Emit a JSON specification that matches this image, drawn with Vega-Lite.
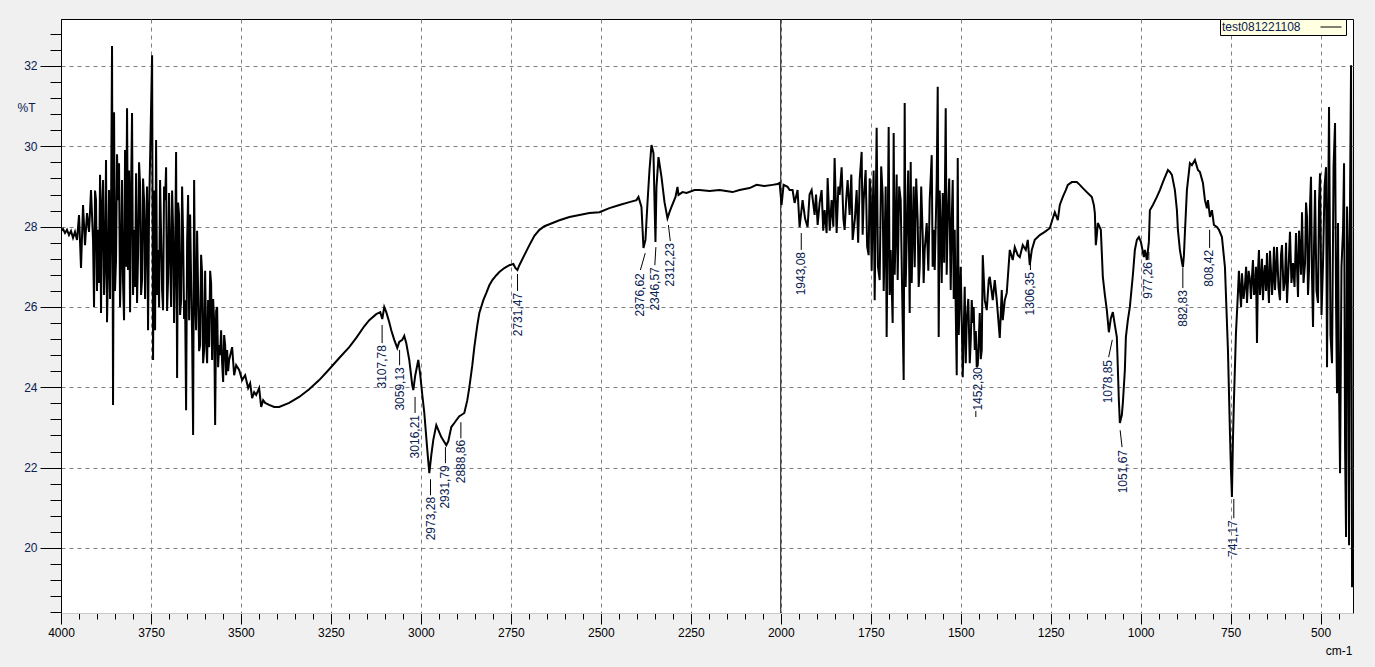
{
  "$schema": "https://vega.github.io/schema/vega-lite/v6.json",
  "width": 1292,
  "height": 594,
  "autosize": {"type": "none"},
  "padding": {"left": 61, "top": 19, "right": 22, "bottom": 54},
  "background": "#f0f0f0",
  "config": {
    "view": {"fill": "#ffffff", "stroke": "#000000", "strokeWidth": 1},
    "font": "Liberation Sans"
  },
  "datasets": {
    "spectrum": [
      {"wn":4000,"t":27.89},{"wn":3994.4,"t":27.94},{"wn":3988.9,"t":27.84},{"wn":3983.3,"t":27.92},{"wn":3977.8,"t":27.79},{"wn":3972.2,"t":27.89},{"wn":3966.6,"t":27.72},{"wn":3961.1,"t":27.87},{"wn":3955.5,"t":27.67},{"wn":3949.9,"t":28.29},{"wn":3944.4,"t":26.97},{"wn":3938.8,"t":28.54},{"wn":3933.3,"t":27.54},{"wn":3927.7,"t":28.34},{"wn":3922.1,"t":27.87},{"wn":3916.6,"t":28.91},{"wn":3911.0,"t":27.67},{"wn":3908.2,"t":26.00},{"wn":3905.4,"t":28.9},{"wn":3902.7,"t":28.66},{"wn":3900.0,"t":26.4},{"wn":3897.1,"t":27.92},{"wn":3894.3,"t":26.6},{"wn":3891.5,"t":29.29},{"wn":3888.8,"t":25.85},{"wn":3886.0,"t":28.5},{"wn":3883.2,"t":29.16},{"wn":3880.4,"t":26.3},{"wn":3877.6,"t":27.17},{"wn":3874.9,"t":29.66},{"wn":3872.1,"t":25.62},{"wn":3869.3,"t":27.0},{"wn":3866.5,"t":28.91},{"wn":3863.7,"t":26.2},{"wn":3861.0,"t":28.29},{"wn":3858.2,"t":32.50},{"wn":3855.4,"t":23.56},{"wn":3852.6,"t":30.85},{"wn":3849.9,"t":26.4},{"wn":3847.1,"t":27.17},{"wn":3844.3,"t":29.8},{"wn":3841.5,"t":28.66},{"wn":3838.7,"t":29.58},{"wn":3836.0,"t":26.0},{"wn":3833.2,"t":27.12},{"wn":3830.4,"t":29.16},{"wn":3827.6,"t":26.6},{"wn":3824.8,"t":25.67},{"wn":3822.0,"t":29.91},{"wn":3819.3,"t":27.0},{"wn":3816.5,"t":30.95},{"wn":3813.7,"t":26.92},{"wn":3810.9,"t":29.4},{"wn":3808.1,"t":25.87},{"wn":3805.4,"t":28.8},{"wn":3802.6,"t":30.83},{"wn":3799.8,"t":26.3},{"wn":3797.0,"t":27.92},{"wn":3794.2,"t":26.5},{"wn":3791.4,"t":29.33},{"wn":3788.7,"t":26.1},{"wn":3785.9,"t":27.29},{"wn":3783.1,"t":29.6},{"wn":3780.3,"t":29.04},{"wn":3777.5,"t":26.3},{"wn":3774.8,"t":26.67},{"wn":3772.0,"t":29.2},{"wn":3769.2,"t":28.66},{"wn":3766.4,"t":26.2},{"wn":3763.6,"t":27.92},{"wn":3760.9,"t":29.0},{"wn":3758.1,"t":25.42},{"wn":3755.3,"t":28.4},{"wn":3752.5,"t":29.66},{"wn":3746.9,"t":32.27},{"wn":3744.2,"t":24.68},{"wn":3741.4,"t":28.9},{"wn":3738.6,"t":25.42},{"wn":3735.8,"t":30.16},{"wn":3733.0,"t":26.3},{"wn":3730.3,"t":27.42},{"wn":3727.5,"t":26.0},{"wn":3724.7,"t":29.16},{"wn":3721.9,"t":27.8},{"wn":3719.1,"t":26.42},{"wn":3716.4,"t":25.92},{"wn":3713.6,"t":29.0},{"wn":3710.8,"t":28.66},{"wn":3708.0,"t":29.48},{"wn":3705.2,"t":25.9},{"wn":3702.5,"t":26.67},{"wn":3699.7,"t":28.84},{"wn":3696.9,"t":27.4},{"wn":3694.1,"t":26.00},{"wn":3691.3,"t":28.9},{"wn":3688.5,"t":27.92},{"wn":3685.8,"t":25.6},{"wn":3683.0,"t":27.17},{"wn":3680.2,"t":29.86},{"wn":3677.4,"t":24.23},{"wn":3674.6,"t":28.6},{"wn":3671.9,"t":28.29},{"wn":3669.1,"t":25.8},{"wn":3666.3,"t":26.17},{"wn":3663.5,"t":29.0},{"wn":3660.7,"t":27.79},{"wn":3658.0,"t":25.7},{"wn":3655.2,"t":26.17},{"wn":3652.4,"t":23.43},{"wn":3649.6,"t":27.6},{"wn":3646.8,"t":28.79},{"wn":3644.0,"t":25.67},{"wn":3641.2,"t":28.3},{"wn":3638.5,"t":26.67},{"wn":3635.7,"t":25.3},{"wn":3632.9,"t":22.81},{"wn":3630.1,"t":29.16},{"wn":3627.3,"t":26.2},{"wn":3624.6,"t":25.42},{"wn":3621.8,"t":27.9},{"wn":3619.0,"t":26.42},{"wn":3616.2,"t":24.9},{"wn":3613.5,"t":25.05},{"wn":3610.7,"t":27.3},{"wn":3607.9,"t":26.84},{"wn":3605.1,"t":24.6},{"wn":3602.3,"t":24.93},{"wn":3599.5,"t":26.9},{"wn":3596.8,"t":25.18},{"wn":3594.0,"t":24.6},{"wn":3591.2,"t":26.17},{"wn":3588.4,"t":25.0},{"wn":3585.6,"t":26.9},{"wn":3582.9,"t":26.59},{"wn":3580.1,"t":24.68},{"wn":3577.3,"t":26.2},{"wn":3574.5,"t":25.67},{"wn":3571.7,"t":23.06},{"wn":3568.9,"t":25.9},{"wn":3566.2,"t":26.00},{"wn":3563.4,"t":24.5},{"wn":3560.6,"t":25.05},{"wn":3557.8,"t":24.8},{"wn":3555.1,"t":25.42},{"wn":3552.3,"t":24.6},{"wn":3549.5,"t":24.13},{"wn":3546.7,"t":25.3},{"wn":3543.9,"t":25.05},{"wn":3541.1,"t":24.3},{"wn":3538.4,"t":24.93},{"wn":3535.6,"t":24.4},{"wn":3532.8,"t":24.68},{"wn":3524.5,"t":25.00},{"wn":3518.9,"t":24.30},{"wn":3513.3,"t":24.55},{"wn":3505.0,"t":24.43},{"wn":3496.7,"t":24.18},{"wn":3488.3,"t":24.30},{"wn":3480.0,"t":23.98},{"wn":3474.4,"t":24.10},{"wn":3468.9,"t":23.73},{"wn":3463.3,"t":23.88},{"wn":3457.7,"t":23.81},{"wn":3449.4,"t":23.98},{"wn":3443.8,"t":23.51},{"wn":3438.3,"t":23.68},{"wn":3432.7,"t":23.61},{"wn":3421.6,"t":23.56},{"wn":3407.7,"t":23.51},{"wn":3393.8,"t":23.51},{"wn":3366.0,"t":23.61},{"wn":3338.2,"t":23.76},{"wn":3310.3,"t":23.95},{"wn":3282.5,"t":24.18},{"wn":3254.7,"t":24.45},{"wn":3226.9,"t":24.73},{"wn":3199.1,"t":25.00},{"wn":3179.6,"t":25.23},{"wn":3157.4,"t":25.52},{"wn":3143.5,"t":25.67},{"wn":3124.0,"t":25.82},{"wn":3112.9,"t":25.87},{"wn":3107.3,"t":25.70},{"wn":3101.8,"t":26.00},{"wn":3096.2,"t":25.87},{"wn":3087.9,"t":25.62},{"wn":3082.3,"t":25.42},{"wn":3074.0,"t":25.18},{"wn":3065.6,"t":24.98},{"wn":3060.1,"t":25.13},{"wn":3051.7,"t":25.18},{"wn":3046.2,"t":25.28},{"wn":3040.6,"t":25.10},{"wn":3032.3,"t":24.68},{"wn":3023.9,"t":24.05},{"wn":3021.1,"t":23.93},{"wn":3015.6,"t":24.30},{"wn":3007.2,"t":24.68},{"wn":3001.7,"t":24.30},{"wn":2996.1,"t":23.81},{"wn":2990.5,"t":23.36},{"wn":2982.2,"t":22.44},{"wn":2976.6,"t":21.86},{"wn":2971.1,"t":22.31},{"wn":2965.5,"t":22.69},{"wn":2957.2,"t":23.06},{"wn":2948.8,"t":22.88},{"wn":2943.3,"t":22.76},{"wn":2934.9,"t":22.64},{"wn":2929.4,"t":22.56},{"wn":2923.8,"t":22.66},{"wn":2915.5,"t":23.01},{"wn":2907.1,"t":23.11},{"wn":2901.6,"t":23.18},{"wn":2893.2,"t":23.28},{"wn":2887.6,"t":23.31},{"wn":2879.3,"t":23.36},{"wn":2871.0,"t":23.68},{"wn":2865.4,"t":24.00},{"wn":2857.1,"t":24.55},{"wn":2851.5,"t":25.00},{"wn":2843.2,"t":25.55},{"wn":2837.6,"t":25.85},{"wn":2826.5,"t":26.17},{"wn":2818.1,"t":26.35},{"wn":2809.8,"t":26.54},{"wn":2801.4,"t":26.67},{"wn":2790.3,"t":26.79},{"wn":2782.0,"t":26.87},{"wn":2768.1,"t":26.97},{"wn":2754.2,"t":27.04},{"wn":2743.0,"t":27.07},{"wn":2737.5,"t":26.97},{"wn":2731.9,"t":26.92},{"wn":2726.4,"t":27.04},{"wn":2712.5,"t":27.29},{"wn":2698.5,"t":27.54},{"wn":2684.6,"t":27.77},{"wn":2670.7,"t":27.92},{"wn":2656.8,"t":28.01},{"wn":2642.9,"t":28.06},{"wn":2629.0,"t":28.11},{"wn":2615.1,"t":28.16},{"wn":2587.3,"t":28.24},{"wn":2559.5,"t":28.29},{"wn":2531.7,"t":28.34},{"wn":2503.9,"t":28.36},{"wn":2476.1,"t":28.46},{"wn":2448.3,"t":28.54},{"wn":2420.5,"t":28.61},{"wn":2401.0,"t":28.66},{"wn":2395.4,"t":28.74},{"wn":2387.1,"t":28.49},{"wn":2381.5,"t":27.47},{"wn":2376.0,"t":27.67},{"wn":2370.4,"t":28.59},{"wn":2364.8,"t":29.41},{"wn":2359.3,"t":30.03},{"wn":2353.7,"t":29.83},{"wn":2350.9,"t":28.66},{"wn":2348.2,"t":27.62},{"wn":2345.4,"t":28.99},{"wn":2339.8,"t":29.73},{"wn":2331.5,"t":29.24},{"wn":2323.1,"t":28.61},{"wn":2314.8,"t":28.21},{"wn":2309.2,"t":28.36},{"wn":2303.7,"t":28.49},{"wn":2292.5,"t":28.74},{"wn":2287.0,"t":28.99},{"wn":2284.2,"t":28.79},{"wn":2273.1,"t":28.86},{"wn":2261.9,"t":28.84},{"wn":2239.7,"t":28.91},{"wn":2225.8,"t":28.91},{"wn":2198.0,"t":28.89},{"wn":2170.2,"t":28.91},{"wn":2134.0,"t":28.86},{"wn":2114.6,"t":28.91},{"wn":2086.7,"t":28.96},{"wn":2067.3,"t":29.04},{"wn":2045.0,"t":29.01},{"wn":2022.8,"t":29.04},{"wn":2008.9,"t":29.06},{"wn":2003.3,"t":29.09},{"wn":1997.8,"t":28.54},{"wn":1992.2,"t":29.04},{"wn":1981.1,"t":28.99},{"wn":1975.5,"t":28.91},{"wn":1967.2,"t":28.91},{"wn":1961.6,"t":28.59},{"wn":1953.3,"t":28.91},{"wn":1947.7,"t":27.99},{"wn":1939.4,"t":28.66},{"wn":1932.5,"t":28.2},{"wn":1925.5,"t":27.99},{"wn":1920.0,"t":28.8},{"wn":1914.3,"t":28.91},{"wn":1906.0,"t":28.29},{"wn":1902.0,"t":28.8},{"wn":1897.6,"t":28.04},{"wn":1892.0,"t":28.6},{"wn":1886.5,"t":28.91},{"wn":1882.0,"t":27.9},{"wn":1878.2,"t":28.41},{"wn":1872.6,"t":27.84},{"wn":1869.8,"t":29.21},{"wn":1864.0,"t":27.9},{"wn":1858.7,"t":28.66},{"wn":1854.0,"t":28.0},{"wn":1850.4,"t":29.71},{"wn":1844.8,"t":27.84},{"wn":1840.0,"t":29.0},{"wn":1836.5,"t":28.79},{"wn":1830.9,"t":29.48},{"wn":1826.0,"t":28.2},{"wn":1822.6,"t":27.92},{"wn":1818.0,"t":28.7},{"wn":1814.2,"t":29.16},{"wn":1808.7,"t":28.29},{"wn":1804.0,"t":29.3},{"wn":1800.3,"t":27.67},{"wn":1794.0,"t":28.2},{"wn":1789.2,"t":28.91},{"wn":1785.0,"t":27.6},{"wn":1780.8,"t":29.16},{"wn":1775.3,"t":29.86},{"wn":1772.5,"t":27.8},{"wn":1769.7,"t":28.66},{"wn":1764.2,"t":29.41},{"wn":1760.0,"t":27.5},{"wn":1755.8,"t":27.29},{"wn":1753.0,"t":29.2},{"wn":1750.3,"t":28.91},{"wn":1747.5,"t":26.9},{"wn":1744.7,"t":28.41},{"wn":1742.0,"t":29.4},{"wn":1739.1,"t":26.17},{"wn":1733.6,"t":30.46},{"wn":1730.0,"t":27.0},{"wn":1725.2,"t":26.67},{"wn":1721.0,"t":29.5},{"wn":1716.9,"t":28.79},{"wn":1714.0,"t":26.4},{"wn":1711.3,"t":27.67},{"wn":1708.5,"t":29.0},{"wn":1705.8,"t":25.25},{"wn":1700.2,"t":30.48},{"wn":1697.4,"t":26.3},{"wn":1694.6,"t":27.42},{"wn":1689.1,"t":25.60},{"wn":1686.3,"t":30.33},{"wn":1683.5,"t":26.8},{"wn":1680.7,"t":27.92},{"wn":1678.0,"t":29.3},{"wn":1675.2,"t":26.67},{"wn":1671.0,"t":29.0},{"wn":1666.8,"t":28.66},{"wn":1662.6,"t":26.3},{"wn":1658.5,"t":24.18},{"wn":1655.7,"t":31.08},{"wn":1653.0,"t":26.5},{"wn":1650.1,"t":27.67},{"wn":1646.0,"t":29.4},{"wn":1641.8,"t":25.85},{"wn":1639.0,"t":29.61},{"wn":1636.2,"t":26.6},{"wn":1633.5,"t":27.92},{"wn":1630.7,"t":29.0},{"wn":1627.9,"t":26.99},{"wn":1623.7,"t":29.2},{"wn":1619.6,"t":28.16},{"wn":1616.8,"t":26.5},{"wn":1614.0,"t":26.99},{"wn":1609.8,"t":29.0},{"wn":1605.7,"t":27.79},{"wn":1603.0,"t":26.6},{"wn":1600.1,"t":27.42},{"wn":1594.5,"t":28.09},{"wn":1590.0,"t":26.9},{"wn":1586.2,"t":28.66},{"wn":1580.6,"t":29.78},{"wn":1578.0,"t":27.0},{"wn":1575.1,"t":27.92},{"wn":1572.3,"t":26.92},{"wn":1566.7,"t":29.16},{"wn":1563.9,"t":31.48},{"wn":1561.2,"t":25.25},{"wn":1558.4,"t":28.9},{"wn":1555.6,"t":27.92},{"wn":1552.8,"t":26.6},{"wn":1550.0,"t":28.84},{"wn":1546.0,"t":27.1},{"wn":1541.7,"t":30.95},{"wn":1539.0,"t":26.8},{"wn":1536.1,"t":28.16},{"wn":1532.0,"t":29.2},{"wn":1527.8,"t":26.42},{"wn":1525.0,"t":28.16},{"wn":1522.2,"t":29.16},{"wn":1519.4,"t":26.2},{"wn":1516.7,"t":27.92},{"wn":1514.0,"t":26.0},{"wn":1511.1,"t":24.30},{"wn":1508.3,"t":29.71},{"wn":1505.5,"t":25.3},{"wn":1502.8,"t":26.17},{"wn":1500.0,"t":27.0},{"wn":1497.2,"t":25.67},{"wn":1494.4,"t":24.25},{"wn":1491.6,"t":25.4},{"wn":1488.9,"t":26.50},{"wn":1486.0,"t":24.6},{"wn":1483.3,"t":25.67},{"wn":1479.0,"t":26.2},{"wn":1474.9,"t":24.60},{"wn":1472.0,"t":25.2},{"wn":1469.4,"t":26.17},{"wn":1466.6,"t":25.60},{"wn":1464.0,"t":26.0},{"wn":1461.0,"t":24.93},{"wn":1458.0,"t":25.4},{"wn":1455.5,"t":24.50},{"wn":1452.7,"t":24.55},{"wn":1449.9,"t":25.18},{"wn":1447.1,"t":25.85},{"wn":1444.3,"t":24.7},{"wn":1441.6,"t":24.93},{"wn":1438.8,"t":27.29},{"wn":1433.2,"t":26.17},{"wn":1427.7,"t":25.92},{"wn":1422.1,"t":26.67},{"wn":1419.3,"t":26.75},{"wn":1411.0,"t":26.17},{"wn":1405.4,"t":26.67},{"wn":1399.9,"t":26.17},{"wn":1391.5,"t":25.23},{"wn":1386.0,"t":26.42},{"wn":1383.2,"t":25.67},{"wn":1377.6,"t":26.17},{"wn":1372.1,"t":26.35},{"wn":1363.7,"t":27.42},{"wn":1355.4,"t":27.17},{"wn":1349.8,"t":27.49},{"wn":1341.5,"t":27.29},{"wn":1335.9,"t":27.24},{"wn":1327.6,"t":27.54},{"wn":1319.2,"t":27.42},{"wn":1313.7,"t":27.67},{"wn":1308.1,"t":27.04},{"wn":1302.5,"t":27.42},{"wn":1294.2,"t":27.67},{"wn":1280.3,"t":27.79},{"wn":1266.4,"t":27.87},{"wn":1252.5,"t":27.96},{"wn":1244.1,"t":28.21},{"wn":1238.6,"t":28.36},{"wn":1230.2,"t":28.16},{"wn":1224.7,"t":28.54},{"wn":1216.3,"t":28.74},{"wn":1208.0,"t":28.91},{"wn":1202.4,"t":29.04},{"wn":1191.3,"t":29.11},{"wn":1177.4,"t":29.11},{"wn":1169.1,"t":29.04},{"wn":1160.7,"t":28.96},{"wn":1149.6,"t":28.86},{"wn":1135.7,"t":28.74},{"wn":1130.1,"t":28.54},{"wn":1127.3,"t":28.34},{"wn":1124.6,"t":27.54},{"wn":1121.8,"t":27.79},{"wn":1119.0,"t":28.09},{"wn":1110.7,"t":27.92},{"wn":1105.1,"t":26.75},{"wn":1099.5,"t":26.30},{"wn":1094.0,"t":25.92},{"wn":1088.4,"t":25.37},{"wn":1082.8,"t":25.72},{"wn":1077.3,"t":25.87},{"wn":1071.7,"t":25.55},{"wn":1066.2,"t":25.25},{"wn":1060.6,"t":23.68},{"wn":1057.8,"t":23.11},{"wn":1052.3,"t":23.31},{"wn":1049.5,"t":23.61},{"wn":1043.9,"t":24.43},{"wn":1041.1,"t":25.25},{"wn":1035.6,"t":25.67},{"wn":1030.0,"t":26.00},{"wn":1021.7,"t":26.79},{"wn":1016.1,"t":27.42},{"wn":1010.5,"t":27.67},{"wn":1005.0,"t":27.74},{"wn":999.4,"t":27.62},{"wn":991.1,"t":27.24},{"wn":988.3,"t":27.42},{"wn":982.7,"t":27.17},{"wn":977.2,"t":27.62},{"wn":974.4,"t":28.41},{"wn":966.0,"t":28.54},{"wn":954.9,"t":28.74},{"wn":946.6,"t":28.91},{"wn":938.2,"t":29.11},{"wn":929.9,"t":29.29},{"wn":924.3,"t":29.41},{"wn":918.8,"t":29.36},{"wn":913.2,"t":29.29},{"wn":904.9,"t":28.91},{"wn":899.3,"t":28.41},{"wn":896.5,"t":27.92},{"wn":891.0,"t":27.42},{"wn":885.4,"t":27.12},{"wn":882.6,"t":26.99},{"wn":879.8,"t":27.29},{"wn":877.1,"t":27.84},{"wn":871.5,"t":28.91},{"wn":863.2,"t":29.58},{"wn":857.6,"t":29.53},{"wn":849.2,"t":29.66},{"wn":840.9,"t":29.41},{"wn":835.3,"t":29.36},{"wn":827.0,"t":29.09},{"wn":821.4,"t":28.66},{"wn":815.9,"t":28.46},{"wn":813.1,"t":28.66},{"wn":807.5,"t":28.24},{"wn":802.0,"t":28.41},{"wn":796.4,"t":28.04},{"wn":788.1,"t":27.99},{"wn":782.5,"t":27.92},{"wn":774.2,"t":27.74},{"wn":765.8,"t":26.99},{"wn":757.5,"t":24.93},{"wn":751.9,"t":22.86},{"wn":749.1,"t":21.94},{"wn":746.4,"t":21.27},{"wn":743.6,"t":22.69},{"wn":740.8,"t":23.68},{"wn":735.2,"t":25.35},{"wn":729.7,"t":26.35},{"wn":727.0,"t":26.9},{"wn":724.1,"t":26.42},{"wn":721.0,"t":26.0},{"wn":718.5,"t":26.84},{"wn":714.0,"t":26.2},{"wn":710.2,"t":26.54},{"wn":707.0,"t":27.0},{"wn":704.6,"t":26.10},{"wn":700.0,"t":26.9},{"wn":696.3,"t":26.67},{"wn":693.5,"t":26.2},{"wn":690.7,"t":26.75},{"wn":688.0,"t":27.17},{"wn":685.0,"t":26.3},{"wn":682.4,"t":26.42},{"wn":679.6,"t":27.0},{"wn":676.8,"t":25.10},{"wn":674.0,"t":26.9},{"wn":671.3,"t":27.42},{"wn":668.5,"t":26.3},{"wn":665.7,"t":26.67},{"wn":663.0,"t":27.2},{"wn":660.1,"t":26.17},{"wn":657.4,"t":26.8},{"wn":654.6,"t":27.04},{"wn":651.8,"t":26.4},{"wn":649.0,"t":27.34},{"wn":646.2,"t":26.6},{"wn":643.5,"t":26.10},{"wn":640.7,"t":27.4},{"wn":637.9,"t":26.92},{"wn":635.0,"t":26.3},{"wn":632.3,"t":26.75},{"wn":629.5,"t":27.5},{"wn":626.8,"t":26.42},{"wn":624.0,"t":26.9},{"wn":621.2,"t":27.49},{"wn":617.0,"t":26.5},{"wn":612.9,"t":26.17},{"wn":610.0,"t":27.3},{"wn":607.3,"t":27.54},{"wn":603.0,"t":26.4},{"wn":599.0,"t":26.67},{"wn":596.0,"t":27.6},{"wn":593.4,"t":26.10},{"wn":589.0,"t":27.0},{"wn":585.1,"t":27.87},{"wn":581.0,"t":26.6},{"wn":576.7,"t":27.09},{"wn":572.5,"t":26.5},{"wn":568.4,"t":27.84},{"wn":565.6,"t":27.0},{"wn":562.8,"t":26.25},{"wn":560.0,"t":27.9},{"wn":557.3,"t":27.42},{"wn":554.5,"t":26.8},{"wn":551.7,"t":28.36},{"wn":547.5,"t":26.6},{"wn":543.3,"t":27.09},{"wn":540.5,"t":28.6},{"wn":537.8,"t":28.24},{"wn":535.0,"t":26.3},{"wn":532.2,"t":26.92},{"wn":529.5,"t":28.5},{"wn":526.7,"t":29.24},{"wn":524.0,"t":26.8},{"wn":521.1,"t":25.50},{"wn":518.3,"t":27.5},{"wn":515.5,"t":28.91},{"wn":511.4,"t":26.4},{"wn":507.2,"t":26.10},{"wn":504.4,"t":28.6},{"wn":501.6,"t":29.33},{"wn":497.5,"t":25.8},{"wn":493.3,"t":27.09},{"wn":489.0,"t":29.0},{"wn":485.0,"t":29.48},{"wn":482.2,"t":24.50},{"wn":479.4,"t":28.0},{"wn":476.6,"t":30.98},{"wn":472.5,"t":25.3},{"wn":468.3,"t":24.60},{"wn":464.0,"t":29.5},{"wn":459.9,"t":30.58},{"wn":457.0,"t":26.0},{"wn":454.4,"t":23.85},{"wn":451.6,"t":28.09},{"wn":448.8,"t":24.0},{"wn":446.0,"t":21.86},{"wn":442.0,"t":27.0},{"wn":437.7,"t":27.92},{"wn":434.9,"t":29.58},{"wn":432.0,"t":22.5},{"wn":429.3,"t":20.27},{"wn":426.5,"t":28.5},{"wn":423.8,"t":27.42},{"wn":421.0,"t":20.07},{"wn":418.2,"t":28.74},{"wn":415.4,"t":32.02},{"wn":412.6,"t":19.02}
    ],
    "peaks": [
      {"p":3107.78,"a":25.55,"q":3107.78,"b":25.10,"x":3107.78,"y":25.05,"text":"3107,78"},
      {"p":3059.13,"a":24.93,"q":3059.13,"b":24.55,"x":3059.13,"y":24.50,"text":"3059,13"},
      {"p":3016.21,"a":23.76,"q":3016.21,"b":23.36,"x":3016.21,"y":23.31,"text":"3016,21"},
      {"p":2973.28,"a":21.71,"q":2973.28,"b":21.31,"x":2973.28,"y":21.27,"text":"2973,28"},
      {"p":2931.79,"a":22.51,"q":2931.79,"b":22.11,"x":2931.79,"y":22.06,"text":"2931,79"},
      {"p":2888.86,"a":23.13,"q":2888.86,"b":22.73,"x":2888.86,"y":22.69,"text":"2888,86"},
      {"p":2731.47,"a":26.82,"q":2731.47,"b":26.40,"x":2731.47,"y":26.35,"text":"2731,47"},
      {"p":2376.62,"a":27.34,"q":2390,"b":26.92,"x":2390,"y":26.84,"text":"2376,62"},
      {"p":2347,"a":27.49,"q":2350,"b":27.04,"x":2350,"y":26.99,"text":"2346,57"},
      {"p":2312.23,"a":28.04,"q":2307,"b":27.64,"x":2307,"y":27.59,"text":"2312,23"},
      {"p":1943.08,"a":27.84,"q":1943.08,"b":27.42,"x":1943.08,"y":27.37,"text":"1943,08"},
      {"p":1458,"a":23.41,"q":1458,"b":23.26,"x":1452.3,"y":24.50,"text":"1452,30"},
      {"p":1306.35,"a":27.32,"q":1306.35,"b":26.92,"x":1308,"y":26.87,"text":"1306,35"},
      {"p":1078.85,"a":25.18,"q":1089,"b":24.75,"x":1090,"y":24.68,"text":"1078,85"},
      {"p":1057,"a":22.93,"q":1051.67,"b":22.51,"x":1050.4,"y":22.44,"text":"1051,67"},
      {"p":977.26,"a":27.37,"q":977.26,"b":27.17,"x":981,"y":27.12,"text":"977,26"},
      {"p":882.83,"a":26.97,"q":882.83,"b":26.47,"x":883,"y":26.42,"text":"882,83"},
      {"p":808.42,"a":27.92,"q":808.42,"b":27.47,"x":809.4,"y":27.42,"text":"808,42"},
      {"p":741.17,"a":21.22,"q":741.17,"b":20.74,"x":743,"y":20.69,"text":"741,17"}
    ]
  },
  "layer": [
    {
      "data": {"name": "spectrum"},
      "mark": {"type": "line", "strokeWidth": 2, "clip": true},
      "encoding": {
        "x": {
          "field": "wn", "type": "quantitative",
          "scale": {"domain": [410, 4000], "reverse": true, "nice": false, "zero": false},
          "axis": {
            "values": [4000,3950,3900,3850,3800,3750,3700,3650,3600,3550,3500,3450,3400,3350,3300,3250,3200,3150,3100,3050,3000,2950,2900,2850,2800,2750,2700,2650,2600,2550,2500,2450,2400,2350,2300,2250,2200,2150,2100,2050,2000,1950,1900,1850,1800,1750,1700,1650,1600,1550,1500,1450,1400,1350,1300,1250,1200,1150,1100,1050,1000,950,900,850,800,750,700,650,600,550,500,450],
            "tickCount": 1000, "tickMinStep": 1,
            "format": "d",
            "labelExpr": "datum.value % 250 === 0 ? datum.label : ''",
            "labelOverlap": false, "labelFlush": false, "labelBound": false,
            "labelFont": "Liberation Sans", "labelFontSize": 12, "labelColor": "#000000", "labelPadding": 3,
            "tickColor": "#000000", "tickWidth": 1,
            "tickSize": {"condition": {"test": "datum.value % 250 === 0", "value": 11}, "value": 6},
            "grid": true, "gridColor": "#808080", "gridDash": [4, 4], "gridWidth": 1,
            "gridOpacity": {"condition": {"test": "datum.value % 250 === 0 && datum.value < 4000", "value": 1}, "value": 0},
            "domainColor": "#c8c8c8",
            "title": "cm-1", "titleFont": "Liberation Sans", "titleFontSize": 12, "titleFontWeight": "normal", "titleColor": "#000000",
            "titleX": 1291, "titleY": 37, "titleAlign": "right", "titleBaseline": "middle", "titleAngle": 0
          }
        },
        "y": {
          "field": "t", "type": "quantitative",
          "scale": {"domain": [18.38, 33.17], "nice": false, "zero": false},
          "axis": {
            "values": [18.4,18.8,19.2,19.6,20,20.4,20.8,21.2,21.6,22,22.4,22.8,23.2,23.6,24,24.4,24.8,25.2,25.6,26,26.4,26.8,27.2,27.6,28,28.4,28.8,29.2,29.6,30,30.4,30.8,31.2,31.6,32,32.4,32.8],
            "tickCount": 1000, "tickMinStep": 0.01,
            "format": "d",
            "labelExpr": "abs(datum.value/2 - round(datum.value/2)) < 0.01 ? datum.label : ''",
            "labelOverlap": false, "labelFlush": false, "labelBound": false,
            "labelFont": "Liberation Sans", "labelFontSize": 12, "labelColor": "#0a2050", "labelPadding": 3,
            "tickColor": "#000000", "tickWidth": 1,
            "tickSize": {"condition": {"test": "abs(datum.value/2 - round(datum.value/2)) < 0.01", "value": 21}, "value": 11},
            "grid": true, "gridColor": "#808080", "gridDash": [4, 4], "gridWidth": 1,
            "gridOpacity": {"condition": {"test": "abs(datum.value/2 - round(datum.value/2)) < 0.01", "value": 1}, "value": 0},
            "domainColor": "#000000",
            "title": "%T", "titleFont": "Liberation Sans", "titleFontSize": 12, "titleFontWeight": "normal", "titleColor": "#0a2050",
            "titleAngle": 0, "titleX": -44, "titleY": 88, "titleAlign": "left", "titleBaseline": "middle"
          }
        },
        "color": {
          "datum": "test081221108",
          "scale": {"range": ["#000000"]},
          "legend": {
            "orient": "none", "legendX": 1159, "legendY": 0,
            "title": "test081221108", "titleOrient": "left", "titleFont": "Liberation Sans", "titleFontSize": 12,
            "titleFontWeight": "normal", "titleColor": "#0a2050", "titlePadding": 24, "titleBaseline": "middle",
            "labelExpr": "''", "labelFontSize": 12, "labelOffset": 0, "labelLimit": 1,
            "symbolType": "M-2,0H2", "symbolSize": 110, "symbolStrokeWidth": 1,
            "fillColor": "#ffffe1", "strokeColor": "#000000", "padding": 2, "cornerRadius": 0
          }
        }
      }
    },
    {
      "data": {"values": [{}]},
      "mark": {"type": "rule", "color": "#000000", "strokeWidth": 1},
      "encoding": {"x": {"datum": 2000, "type": "quantitative"}}
    },
    {
      "data": {"name": "peaks"},
      "mark": {"type": "rule", "color": "#000000", "strokeWidth": 1},
      "encoding": {
        "x": {"field": "p", "type": "quantitative"},
        "x2": {"field": "q"},
        "y": {"field": "a", "type": "quantitative"},
        "y2": {"field": "b"}
      }
    },
    {
      "data": {"name": "peaks"},
      "mark": {"type": "text", "angle": 270, "align": "right", "baseline": "middle", "font": "Liberation Sans", "fontSize": 12, "color": "#0a2050"},
      "encoding": {
        "x": {"field": "x", "type": "quantitative"},
        "y": {"field": "y", "type": "quantitative"},
        "text": {"field": "text"}
      }
    }
  ]
}
